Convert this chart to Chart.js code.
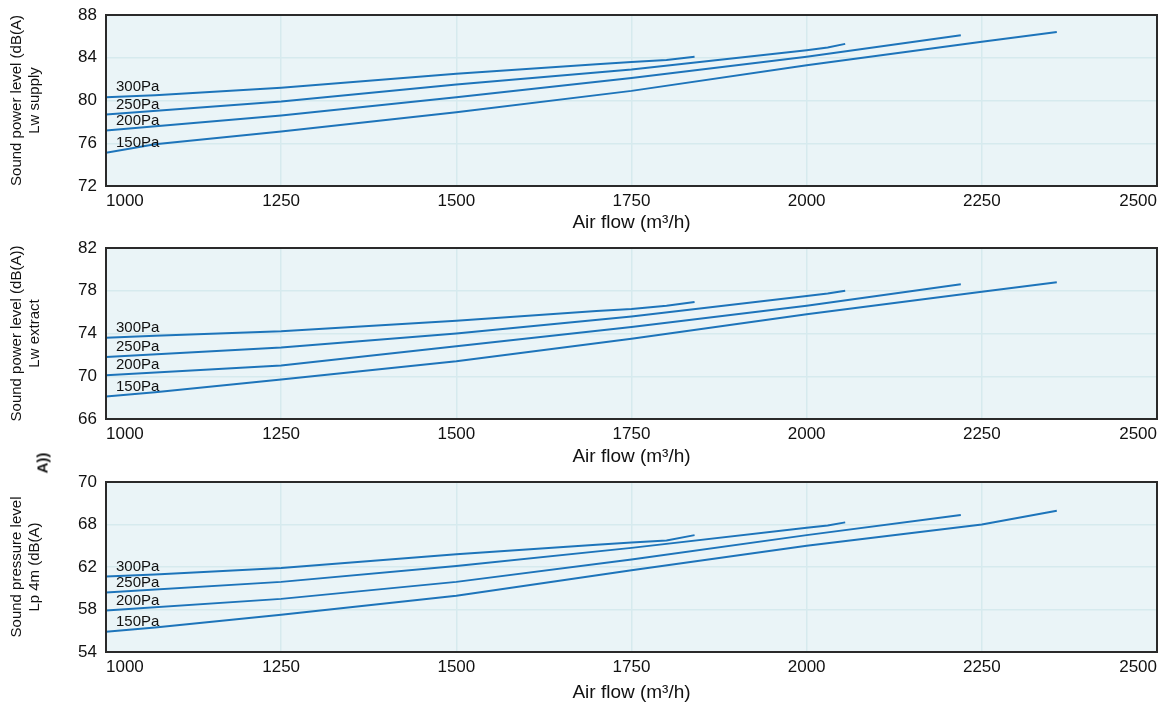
<!DOCTYPE html>
<html>
<head>
<meta charset="utf-8">
<title>Sound levels vs air flow</title>
<script src="https://cdn.jsdelivr.net/npm/chart.js@4.4.0/dist/chart.umd.min.js"></script>
<style>
  body { margin: 0; background: #fff; }
  .box { position: absolute; left: 0; width: 1164px; }
  #stray {
    position: absolute; left: 42px; top: 463px;
    transform: translate(-50%, -50%) rotate(-90deg);
    font: 600 15px 'Liberation Sans', Arial, sans-serif; color: #111;
  }
</style>
</head>
<body>
<div class="box" style="top:0;height:236px"><canvas id="supply"></canvas></div>
<div class="box" style="top:236px;height:234px"><canvas id="extract"></canvas></div>
<div class="box" style="top:470px;height:236px"><canvas id="pressure"></canvas></div>
<div id="stray">A))</div>
<script>
// pressure curves and the air flow points read for each one
const pressures = ['300Pa', '250Pa', '200Pa', '150Pa'];
const flow300 = [1000, 1070, 1250, 1500, 1700, 1750, 1800, 1840];
const flow250 = [1000, 1250, 1500, 1750, 2000, 2030, 2055];
const flow200 = [1000, 1250, 1500, 1750, 2000, 2220];
const flow150 = [1000, 1070, 1250, 1500, 1750, 2000, 2250, 2357];

// Lw supply, dB(A)
const supply300 = [80.3, 80.5, 81.2, 82.5, 83.4, 83.6, 83.8, 84.1];
const supply250 = [78.7, 79.9, 81.5, 82.9, 84.7, 84.95, 85.3];
const supply200 = [77.2, 78.6, 80.3, 82.1, 84.1, 86.1];
const supply150 = [75.1, 75.9, 77.1, 78.9, 80.9, 83.3, 85.5, 86.4];

// Lw extract, dB(A)
const extract300 = [73.6, 73.8, 74.2, 75.2, 76.1, 76.3, 76.6, 76.95];
const extract250 = [71.8, 72.7, 74.0, 75.6, 77.5, 77.75, 78.0];
const extract200 = [70.1, 71.0, 72.8, 74.6, 76.6, 78.6];
const extract150 = [68.1, 68.5, 69.7, 71.4, 73.5, 75.8, 77.9, 78.8];

// Lp 4m, dB(A)
const pressure300 = [61.1, 61.3, 61.9, 63.2, 64.1, 64.3, 64.5, 65.0];
const pressure250 = [59.6, 60.6, 62.1, 63.8, 65.7, 65.9, 66.2];
const pressure200 = [57.9, 59.0, 60.6, 62.7, 65.0, 66.9];
const pressure150 = [55.9, 56.3, 57.5, 59.3, 61.7, 64.0, 66.0, 67.3];

const xTickLabels = ['1000', '1250', '1500', '1750', '2000', '2250', '2500'];
const supplyTicks = ['72', '76', '80', '84', '88'];
const extractTicks = ['66', '70', '74', '78', '82'];
const pressureTicks = ['54', '58', '62', '68', '70'];

const LINE = '#1d74ba';
const FONT = "'Liberation Sans', Arial, Helvetica, sans-serif";
Chart.defaults.font.family = FONT;
Chart.defaults.color = '#111';

const zip = (xs, ys) => xs.map((x, i) => ({ x: x, y: ys[i] }));

const plotBox = {
  id: 'plotBox',
  beforeDraw(chart) {
    const a = chart.chartArea, ctx = chart.ctx;
    ctx.save();
    ctx.fillStyle = '#eaf4f7';
    ctx.fillRect(a.left, a.top, a.right - a.left, a.bottom - a.top);
    ctx.restore();
  },
  afterDatasetsDraw(chart) {
    const ctx = chart.ctx;
    ctx.save();
    ctx.font = '15px ' + FONT;
    ctx.fillStyle = '#111';
    ctx.textBaseline = 'middle';
    chart.data.datasets.forEach((ds, i) => {
      const pt = chart.getDatasetMeta(i).data[0];
      ctx.fillText(ds.label, pt.x + 10, pt.y - 10);
    });
    ctx.restore();
  },
  afterDraw(chart) {
    const a = chart.chartArea, ctx = chart.ctx;
    ctx.save();
    ctx.strokeStyle = '#2a2a2a';
    ctx.lineWidth = 2;
    ctx.strokeRect(a.left, a.top, a.right - a.left, a.bottom - a.top);
    ctx.restore();
  }
};

function makeChart(id, series, yMin, yMax, yTicks, yTitle, padTop, xHeight) {
  const flows = [flow300, flow250, flow200, flow150];
  return new Chart(document.getElementById(id), {
    type: 'line',
    data: {
      datasets: series.map((vals, i) => ({
        label: pressures[i],
        data: zip(flows[i], vals),
        borderColor: LINE,
        borderWidth: 2,
        pointRadius: 0,
        tension: 0,
        fill: false
      }))
    },
    options: {
      responsive: true,
      maintainAspectRatio: false,
      animation: false,
      layout: { padding: { top: padTop, left: 0, right: 7, bottom: 0 } },
      plugins: { legend: { display: false }, tooltip: { enabled: false } },
      scales: {
        x: {
          type: 'linear',
          min: 1000,
          max: 2500,
          border: { display: false },
          grid: { color: '#d6eaee', lineWidth: 1.5, drawTicks: false },
          ticks: {
            stepSize: 250,
            align: 'inner',
            padding: 5,
            font: { size: 17 },
            callback: (v, i) => xTickLabels[i]
          },
          title: {
            display: true,
            text: 'Air flow (m³/h)',
            font: { size: 19 },
            padding: { top: 0, bottom: 2 }
          },
          afterFit(s) { s.height = xHeight; s.paddingLeft = 0; s.paddingRight = 0; }
        },
        y: {
          min: yMin,
          max: yMax,
          border: { display: false },
          grid: { color: '#d6eaee', lineWidth: 1.5, drawTicks: false },
          ticks: {
            stepSize: 4,
            padding: 9,
            font: { size: 17 },
            callback: (v, i) => yTicks[i]
          },
          title: {
            display: true,
            text: yTitle,
            font: { size: 15, lineHeight: 1.2 },
            padding: { top: 8, bottom: 0 }
          },
          afterFit(s) { s.width = 106; s.paddingTop = 0; s.paddingBottom = 0; }
        }
      }
    },
    plugins: [plotBox]
  });
}

makeChart('supply', [supply300, supply250, supply200, supply150], 72, 88, supplyTicks,
  ['Sound power level (dB(A)', 'Lw supply'], 15, 50);
makeChart('extract', [extract300, extract250, extract200, extract150], 66, 82, extractTicks,
  ['Sound power level (dB(A))', 'Lw extract'], 12, 51);
makeChart('pressure', [pressure300, pressure250, pressure200, pressure150], 54, 70, pressureTicks,
  ['Sound pressure level', 'Lp 4m (dB(A)'], 12, 54);
</script>
</body>
</html>
